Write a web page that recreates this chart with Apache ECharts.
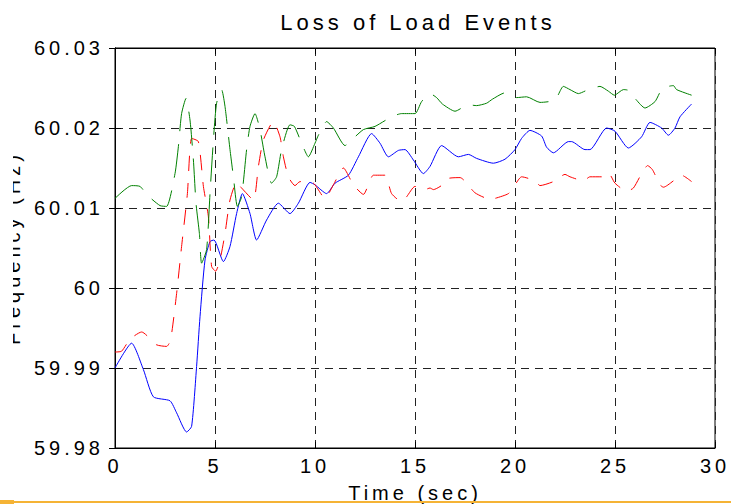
<!DOCTYPE html>
<html>
<head>
<meta charset="utf-8">
<script src="https://cdn.jsdelivr.net/npm/echarts@6/dist/echarts.min.js"></script>
<style>
html, body { margin: 0; padding: 0; background: #fff; }
#chart { width: 731px; height: 504px; }
/* MATLAB-style wide letter spacing */
#chart text { letter-spacing: 4px; }
</style>
</head>
<body>
<div id="chart"></div>
<script>
// 频率曲线数据 (时间 s, 频率 Hz)
const blueTime = [0, 0.83, 1.42, 1.92, 2.75, 3.08, 3.58, 3.83, 4.08, 4.25, 4.5, 4.75, 4.95, 5.42, 5.75, 6.08, 6.37, 6.75, 7.08, 7.58, 8.17, 8.75, 9.17, 9.75, 10.0, 10.58, 11.0, 11.67, 12.17, 12.83, 13.25, 13.67, 14.17, 14.5, 14.92, 15.42, 15.75, 16.33, 17.17, 17.67, 18.08, 18.92, 19.5, 20.0, 20.33, 20.75, 21.33, 21.58, 21.92, 22.67, 22.83, 23.5, 23.75, 24.58, 25.0, 25.67, 26.33, 26.75, 27.33, 27.67, 28.0, 28.25, 28.83];
const blueFreq = [59.9900, 59.9931, 59.9898, 59.9864, 59.9859, 59.9844, 59.9820, 59.9827, 59.9902, 59.9964, 60.0035, 60.0058, 60.0060, 60.0033, 60.0052, 60.0093, 60.0118, 60.0093, 60.0060, 60.0085, 60.0106, 60.0093, 60.0106, 60.0132, 60.0129, 60.0118, 60.0131, 60.0141, 60.0164, 60.0193, 60.0181, 60.0164, 60.0172, 60.0173, 60.0160, 60.0143, 60.0152, 60.0178, 60.0164, 60.0167, 60.0162, 60.0156, 60.0161, 60.0173, 60.0187, 60.0197, 60.0190, 60.0176, 60.0169, 60.0183, 60.0183, 60.0173, 60.0173, 60.0200, 60.0196, 60.0175, 60.0189, 60.0207, 60.0200, 60.0191, 60.0200, 60.0214, 60.0230];

const redTime = [0, 0.33, 0.75, 1.33, 2.08, 2.58, 2.78, 3.08, 3.33, 3.62, 3.83, 4.17, 4.42, 4.67, 4.83, 5.03, 5.25, 5.5, 5.75, 6.08, 6.33, 6.92, 7.17, 7.42, 7.92, 8.25, 8.42, 8.67, 9.0, 9.25, 9.92, 10.5, 10.92, 11.42, 11.92, 12.42, 12.92, 13.5, 13.83, 14.33, 14.58, 15.0, 15.5, 15.75, 15.92, 16.5, 16.67, 17.25, 18.0, 18.75, 19.0, 19.67, 20.0, 20.33, 21.0, 21.25, 21.92, 22.5, 22.75, 23.42, 23.75, 24.33, 24.67, 25.0, 25.58, 25.92, 26.33, 26.63, 26.87, 27.25, 27.42, 28.08, 28.33, 28.83];
const redFreq = [59.9920, 59.9921, 59.9936, 59.9945, 59.9929, 59.9927, 59.9935, 59.9993, 60.0052, 60.0118, 60.0187, 60.0183, 60.0127, 60.0089, 60.0027, 60.0021, 60.0035, 60.0068, 60.0110, 60.0132, 60.0125, 60.0110, 60.0152, 60.0185, 60.0208, 60.0189, 60.0164, 60.0139, 60.0128, 60.0133, 60.0131, 60.0112, 60.0129, 60.0150, 60.0129, 60.0117, 60.0141, 60.0141, 60.0118, 60.0108, 60.0114, 60.0127, 60.0123, 60.0125, 60.0123, 60.0131, 60.0137, 60.0138, 60.0119, 60.0111, 60.0112, 60.0118, 60.0129, 60.0139, 60.0134, 60.0128, 60.0133, 60.0142, 60.0139, 60.0134, 60.0139, 60.0139, 60.0144, 60.0131, 60.0121, 60.0125, 60.0143, 60.0153, 60.0148, 60.0129, 60.0126, 60.0137, 60.0141, 60.0133];

const greenTime = [0, 0.83, 1.25, 1.62, 2.25, 2.58, 3.0, 3.17, 3.33, 3.55, 3.75, 3.92, 4.05, 4.22, 4.33, 4.58, 4.75, 4.92, 5.08, 5.33, 5.5, 5.75, 5.92, 6.12, 6.33, 6.58, 6.75, 7.0, 7.25, 7.5, 7.83, 8.08, 8.33, 8.75, 8.97, 9.33, 9.67, 10.0, 10.17, 10.58, 10.92, 11.5, 11.83, 12.42, 13.0, 13.83, 14.33, 15.0, 15.33, 15.75, 16.08, 16.37, 17.0, 17.67, 18.08, 18.58, 18.87, 19.5, 20.08, 20.58, 21.25, 22.0, 22.42, 22.75, 23.17, 23.58, 24.25, 24.67, 24.97, 25.42, 25.67, 26.0, 26.5, 27.0, 27.33, 27.67, 27.92, 28.08, 28.83];
const greenFreq = [60.0112, 60.0128, 60.0127, 60.0116, 60.0103, 60.0102, 60.0143, 60.0177, 60.0218, 60.0237, 60.0210, 60.0160, 60.0106, 60.0068, 60.0031, 60.0048, 60.0118, 60.0185, 60.0231, 60.0248, 60.0227, 60.0173, 60.0139, 60.0102, 60.0114, 60.0173, 60.0202, 60.0218, 60.0198, 60.0164, 60.0131, 60.0139, 60.0173, 60.0204, 60.0202, 60.0181, 60.0164, 60.0181, 60.0191, 60.0208, 60.0200, 60.0178, 60.0185, 60.0198, 60.0202, 60.0214, 60.0218, 60.0218, 60.0233, 60.0243, 60.0238, 60.0230, 60.0221, 60.0229, 60.0228, 60.0231, 60.0236, 60.0244, 60.0238, 60.0239, 60.0232, 60.0235, 60.0252, 60.0248, 60.0243, 60.0247, 60.0252, 60.0246, 60.0241, 60.0248, 60.0247, 60.0237, 60.0225, 60.0233, 60.0248, 60.0252, 60.0253, 60.0248, 60.0241];

const zip = (xs, ys) => xs.map((x, i) => [x, ys[i]]);

const chart = echarts.init(document.getElementById('chart'), null, { renderer: 'svg' });
const FONT = 'Liberation Sans';

const fmtFreq = (v) => String(Math.round(v * 100) / 100);

const option = {
    animation: false,
    backgroundColor: '#fff',
    title: {
        text: 'Loss of Load Events',
        left: 413,
        textAlign: 'center',
        top: 6,
        textStyle: { fontFamily: FONT, fontSize: 22, fontWeight: 'normal', color: '#000' },
    },
    grid: {
        left: 115, top: 48, width: 600, height: 400,
        outerBoundsMode: 'none',
        show: true, borderColor: '#000', borderWidth: 1,
    },
    xAxis: [
        {
            type: 'value', min: 0, max: 30, interval: 5,
            name: 'Time (sec)', nameLocation: 'middle', nameGap: 35,
            nameTextStyle: { fontFamily: FONT, fontSize: 20, color: '#000' },
            axisLine: { lineStyle: { color: '#000' } },
            axisTick: { inside: true, length: 6, lineStyle: { color: '#000' } },
            axisLabel: { fontFamily: FONT, fontSize: 20, color: '#000', margin: 8, showMinLabel: true, showMaxLabel: true },
            splitLine: { show: true, lineStyle: { color: '#222', type: [8, 6], width: 1 } },
        },
        {
            type: 'value', min: 0, max: 30, interval: 5, position: 'top',
            axisLine: { lineStyle: { color: '#000' } },
            axisTick: { inside: true, length: 6, lineStyle: { color: '#000' } },
            axisLabel: { show: false },
            splitLine: { show: false },
        },
    ],
    yAxis: [
        {
            type: 'value', min: 59.98, max: 60.03, interval: 0.01,
            name: 'Frequency (Hz)', nameLocation: 'middle', nameGap: 92, nameRotate: 90,
            nameTextStyle: { fontFamily: FONT, fontSize: 20, color: '#000' },
            axisLine: { show: true, lineStyle: { color: '#000' } },
            axisTick: { show: true, inside: true, length: 6, lineStyle: { color: '#000' } },
            axisLabel: { fontFamily: FONT, fontSize: 20, color: '#000', margin: 11, formatter: fmtFreq, showMinLabel: true, showMaxLabel: true },
            splitLine: { show: true, lineStyle: { color: '#222', type: [8, 6], width: 1 } },
        },
        {
            type: 'value', min: 59.98, max: 60.03, interval: 0.01, position: 'right',
            axisLine: { show: true, lineStyle: { color: '#000' } },
            axisTick: { show: true, inside: true, length: 6, lineStyle: { color: '#000' } },
            axisLabel: { show: false },
            splitLine: { show: false },
        },
    ],
    series: [
        {
            name: 'blue', type: 'line', xAxisIndex: 0, yAxisIndex: 0,
            data: zip(blueTime, blueFreq), showSymbol: false, smooth: 0.2,
            lineStyle: { color: '#0000ff', width: 1 },
        },
        {
            name: 'red', type: 'line', xAxisIndex: 0, yAxisIndex: 0,
            data: zip(redTime, redFreq), showSymbol: false, smooth: 0.2,
            lineStyle: { color: '#ff0000', width: 1, type: [15, 12] },
        },
        {
            name: 'green', type: 'line', xAxisIndex: 0, yAxisIndex: 0,
            data: zip(greenTime, greenFreq), showSymbol: false, smooth: 0.2,
            lineStyle: { color: '#008000', width: 1, type: [34, 13] },
        },
    ],
    graphic: [
        // 左侧裁切掉的 y 轴标题
        { type: 'rect', left: 0, top: 130, shape: { width: 13, height: 240 }, style: { fill: '#fff' }, z: 100 },
        // 页面底部的橙色分隔线
        { type: 'rect', left: 0, top: 501, shape: { width: 731, height: 2 }, style: { fill: '#f5b335' }, z: 100 },
        { type: 'rect', left: 0, top: 500, shape: { width: 14, height: 4 }, style: { fill: '#f5b335' }, z: 100 },
    ],
};

chart.setOption(option);
</script>
</body>
</html>
